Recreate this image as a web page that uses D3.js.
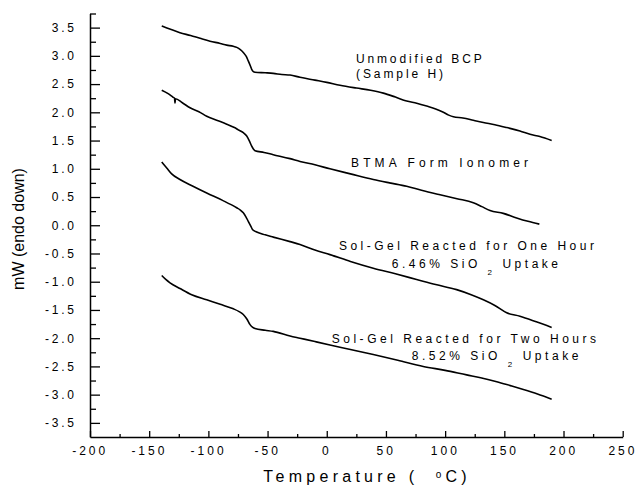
<!DOCTYPE html>
<meta charset="utf-8">
<script src="https://d3js.org/d3.v7.min.js"></script>
<style>
  body { margin: 0; background: #fff; }
  text { font-family: Arial, "Liberation Sans", sans-serif; fill: #000; }
</style>
<div id="chart"></div>
<script>
// DSC traces: [temperature (C), heat flow (mW)]
var unmodified = [[-139.4,3.53],[-132,3.47],[-124,3.41],[-115,3.36],[-107,3.31],[-98.6,3.26],[-90,3.22],[-84.5,3.19],[-79,3.17],[-76,3.15],[-73,3.11],[-70.5,3.06],[-68,2.99],[-66.3,2.91],[-64.5,2.82],[-63.4,2.76],[-62,2.72],[-60.6,2.71],[-52,2.70],[-45.2,2.69],[-38,2.67],[-31,2.66],[-22.6,2.62],[-10,2.57],[0,2.53],[11.2,2.48],[25,2.43],[37,2.39],[47.8,2.34],[58,2.27],[67.5,2.20],[76,2.16],[84.4,2.11],[92,2.06],[98.5,2.00],[103,1.95],[107,1.92],[115,1.90],[123.8,1.86],[132.3,1.82],[142,1.78],[152,1.73],[163.2,1.67],[171.7,1.61],[180,1.57],[190,1.50]];
var btma = [[-139.4,2.39],[-134,2.33],[-130,2.27],[-128.6,2.25],[-128.2,2.16],[-127.8,2.24],[-122,2.17],[-115.5,2.08],[-108,2.01],[-101.4,1.93],[-93,1.86],[-84.5,1.79],[-78,1.73],[-74.7,1.69],[-70.5,1.64],[-67.6,1.58],[-65.5,1.50],[-63.4,1.40],[-62,1.35],[-60.6,1.32],[-53,1.29],[-45.2,1.25],[-31,1.18],[-22.6,1.13],[-10,1.07],[2.7,1.00],[20,0.91],[39.3,0.81],[53,0.75],[67.5,0.69],[80,0.62],[95.7,0.54],[110,0.47],[123.8,0.40],[131,0.33],[137.9,0.26],[149.1,0.21],[160.4,0.13],[170,0.07],[179.6,0.02]];
var oneHour = [[-139.4,1.12],[-135,1.01],[-131,0.91],[-124,0.81],[-113,0.69],[-101.4,0.57],[-88,0.44],[-76.1,0.31],[-73,0.27],[-70.5,0.22],[-68.3,0.15],[-66.3,0.07],[-64.3,-0.01],[-62.6,-0.08],[-59.2,-0.12],[-52,-0.17],[-45.2,-0.21],[-31,-0.29],[-22.6,-0.34],[-10,-0.44],[2.7,-0.52],[20,-0.64],[39.3,-0.76],[58,-0.86],[75.9,-0.96],[92,-1.05],[109.7,-1.14],[122,-1.23],[132.3,-1.32],[142,-1.42],[152,-1.55],[163.2,-1.61],[177,-1.71],[190,-1.81]];
var twoHours = [[-139.4,-0.89],[-136,-0.96],[-132.4,-1.02],[-124,-1.12],[-114.1,-1.23],[-101.4,-1.32],[-90,-1.40],[-78.9,-1.48],[-74,-1.53],[-70.5,-1.58],[-67.5,-1.66],[-64.8,-1.76],[-62.5,-1.81],[-60.6,-1.83],[-52,-1.86],[-45.2,-1.88],[-31,-1.96],[-22.6,-2.00],[-10,-2.06],[2.7,-2.12],[20,-2.20],[39.3,-2.29],[60,-2.39],[81.5,-2.50],[100,-2.57],[118.2,-2.65],[130,-2.70],[143.6,-2.77],[155,-2.84],[166.1,-2.91],[178,-2.99],[190,-3.08]];

var xTicks = [-200,-150,-100,-50,0,50,100,150,200,250];
var yTicks = [3.5,3.0,2.5,2.0,1.5,1.0,0.5,0.0,-0.5,-1.0,-1.5,-2.0,-2.5,-3.0,-3.5];
var yTickLabels = ["3.5","3.0","2.5","2.0","1.5","1.0","0.5","0.0","-0.5","-1.0","-1.5","-2.0","-2.5","-3.0","-3.5"];

var svg = d3.select("#chart")
  .append("svg")
    .attr("width", 637)
    .attr("height", 487);

var x = d3.scaleLinear().domain([-200, 250]).range([90, 622.7]);
var y = d3.scaleLinear().domain([-3.75, 3.75]).range([437, 13.5]);

// minor ticks first, majors drawn over them
svg.append("g")
  .attr("transform", "translate(0,437)")
  .call(d3.axisBottom(x).tickValues(d3.range(-175, 250, 50)).tickSize(-3).tickSizeOuter(0).tickFormat(""))
  .call(g => g.select(".domain").remove());
svg.append("g")
  .attr("transform", "translate(90,0)")
  .call(d3.axisLeft(y).tickValues(d3.range(-3.25, 3.8, 0.5)).tickSize(-6).tickSizeOuter(0).tickFormat(""))
  .call(g => g.select(".domain").remove());

var xAxis = svg.append("g")
  .attr("transform", "translate(0,437)")
  .call(d3.axisBottom(x).tickValues(xTicks).tickSize(-6).tickSizeOuter(0).tickPadding(9.5).tickFormat(d => d));
xAxis.selectAll("text")
  .style("font-size", "12px")
  .style("letter-spacing", "3px")
  .attr("dx", "-0.3px");

var yAxis = svg.append("g")
  .attr("transform", "translate(90,0)")
  .call(d3.axisLeft(y).tickValues(yTicks).tickSize(-10).tickSizeOuter(0).tickPadding(13.2)
    .tickFormat((d, i) => yTickLabels[i]));
yAxis.selectAll("text")
  .style("font-size", "12px")
  .style("letter-spacing", "2.8px");

svg.selectAll(".domain").attr("stroke-width", 1.5);
svg.selectAll(".tick line").attr("stroke-width", 1.3);
svg.selectAll(".tick text").attr("font-family", null);

// traces
var line = d3.line()
  .x(d => x(d[0]))
  .y(d => y(d[1]))
  .curve(d3.curveMonotoneX);

svg.selectAll(".trace")
  .data([unmodified, btma, oneHour, twoHours])
  .enter()
  .append("path")
    .attr("class", "trace")
    .attr("d", line)
    .attr("fill", "none")
    .attr("stroke", "#000")
    .attr("stroke-width", 1.6);

// annotations: text parts, left temp, baseline mW, width in px
function note(parts, tx, ty, len) {
  var t = svg.append("text")
    .attr("x", x(tx))
    .attr("y", y(ty))
    .attr("textLength", len)
    .attr("lengthAdjust", "spacing")
    .style("font-size", "12px")
    .style("white-space", "pre");
  parts.forEach(function(p) {
    var s = t.append("tspan").text(p.t);
    if (p.sub) s.attr("dy", 7).style("font-size", "8px");
    if (p.back) s.attr("dy", -7);
  });
}
note([{t: "Unmodified BCP"}], 24.7, 2.88, 125.7);
note([{t: "(Sample H)"}], 24.7, 2.61, 87);
note([{t: "BTMA Form Ionomer"}], 20.5, 1.04, 177);
note([{t: "Sol-Gel Reacted for One Hour"}], 10.3, -0.43, 255);
note([{t: "6.46% SiO "}, {t: "2", sub: true}, {t: " Uptake", back: true}], 54.9, -0.75, 166.3);
note([{t: "Sol-Gel Reacted for Two Hours"}], 4.2, -2.08, 264.3);
note([{t: "8.52% SiO "}, {t: "2", sub: true}, {t: " Uptake", back: true}], 71.8, -2.39, 166.6);

// axis titles
var xt = svg.append("text")
  .attr("x", 263.3)
  .attr("y", 482)
  .attr("textLength", 203.4)
  .attr("lengthAdjust", "spacing")
  .style("font-size", "16px")
  .style("white-space", "pre");
xt.append("tspan").text("Temperature (  ");
xt.append("tspan").attr("dy", -4).style("font-size", "10px").text("o");
xt.append("tspan").attr("dy", 4).text("C)");

svg.append("text")
  .attr("transform", "translate(24,229) rotate(-90)")
  .attr("text-anchor", "middle")
  .style("font-size", "16px")
  .text("mW (endo down)");
</script>
